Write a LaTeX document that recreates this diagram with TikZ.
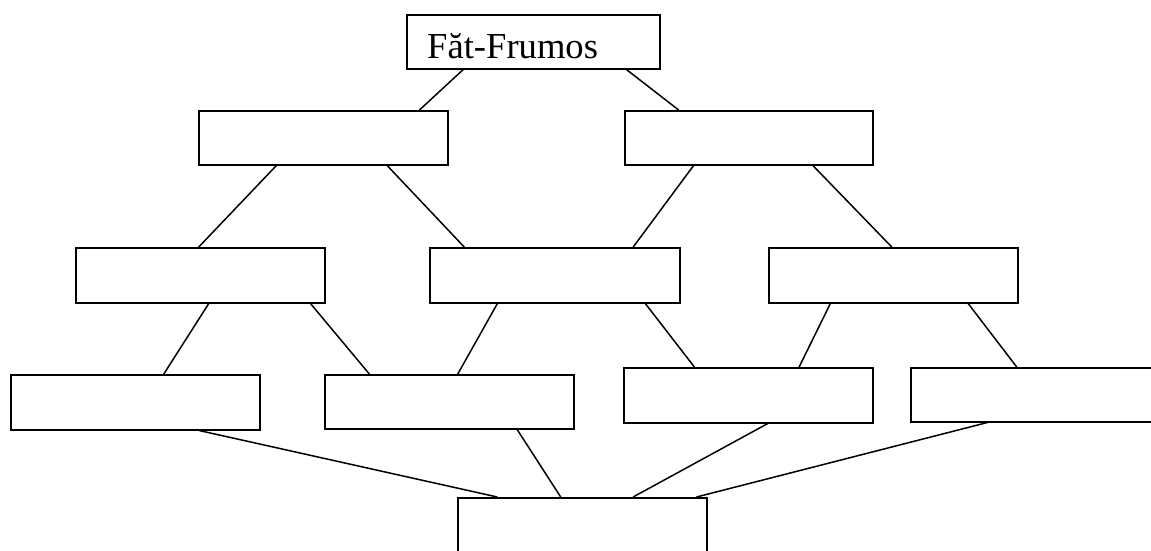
\documentclass[tikz,border=0pt]{standalone}
\usepackage{fontspec}
\setmainfont{Liberation Serif}
\usetikzlibrary{calc}
\begin{document}
\begin{tikzpicture}[x=1pt,y=-1pt,
  box/.style={draw=black,line width=1.5pt,anchor=north west,inner sep=0pt,
    minimum width=249pt,minimum height=54pt,fill=white},
  link/.style={draw=black,line width=1.5pt}]
\useasboundingbox (0,0) rectangle (1151,550);
\clip (0,0) rectangle (1151,550);
% nodes
\node[box,minimum width=253pt] (top) at (406,14) {};
\node[anchor=base west,inner sep=0pt,font=\fontsize{36.6}{40}\selectfont] (title) at (427,58) {Făt-Frumos};
\node[box] (l1a) at (198,110) {};
\node[box,minimum width=248pt] (l1b) at (624,110) {};
\node[box,minimum height=55pt] (a) at (75,247) {};
\node[box,minimum width=250pt,minimum height=55pt] (b) at (429,247) {};
\node[box,minimum height=55pt] (c) at (768,247) {};
\node[box,minimum height=55pt] (d) at (10,374) {};
\node[box,minimum height=54pt] (e) at (324,374) {};
\node[box,minimum height=55pt] (f) at (623,367) {};
\node[box,minimum height=54pt] (g) at (910,367) {};
\node[box,minimum height=80pt] (bot) at (457,497) {};
% connectors
\draw[link] ($(top.south west)!0.225!(top.south east)$) -- ($(l1a.north west)!0.884!(l1a.north east)$);
\draw[link] ($(top.south west)!0.866!(top.south east)$) -- ($(l1b.north west)!0.219!(l1b.north east)$);
\draw[link] ($(l1a.south west)!0.313!(l1a.south east)$) -- ($(a.north west)!0.494!(a.north east)$);
\draw[link] ($(l1a.south west)!0.755!(l1a.south east)$) -- ($(b.north west)!0.14!(b.north east)$);
\draw[link] ($(l1b.south west)!0.279!(l1b.south east)$) -- ($(b.north west)!0.812!(b.north east)$);
\draw[link] ($(l1b.south west)!0.757!(l1b.south east)$) -- ($(c.north west)!0.494!(c.north east)$);
\draw[link] ($(a.south west)!0.534!(a.south east)$) -- ($(d.north west)!0.614!(d.north east)$);
\draw[link] ($(a.south west)!0.940!(a.south east)$) -- ($(e.north west)!0.181!(e.north east)$);
\draw[link] ($(b.south west)!0.272!(b.south east)$) -- ($(e.north west)!0.534!(e.north east)$);
\draw[link] ($(b.south west)!0.86!(b.south east)$) -- ($(f.north west)!0.285!(f.north east)$);
\draw[link] ($(c.south west)!0.249!(c.south east)$) -- ($(f.north west)!0.703!(f.north east)$);
\draw[link] ($(c.south west)!0.799!(c.south east)$) -- ($(g.north west)!0.426!(g.north east)$);
\draw[link] ($(d.south west)!0.755!(d.south east)$) -- ($(bot.north west)!0.161!(bot.north east)$);
\draw[link] ($(e.south west)!0.771!(e.south east)$) -- ($(bot.north west)!0.414!(bot.north east)$);
\draw[link] ($(f.south west)!0.578!(f.south east)$) -- ($(bot.north west)!0.703!(bot.north east)$);
\draw[link] ($(g.south west)!0.309!(g.south east)$) -- ($(bot.north west)!0.956!(bot.north east)$);
\end{tikzpicture}
\end{document}
